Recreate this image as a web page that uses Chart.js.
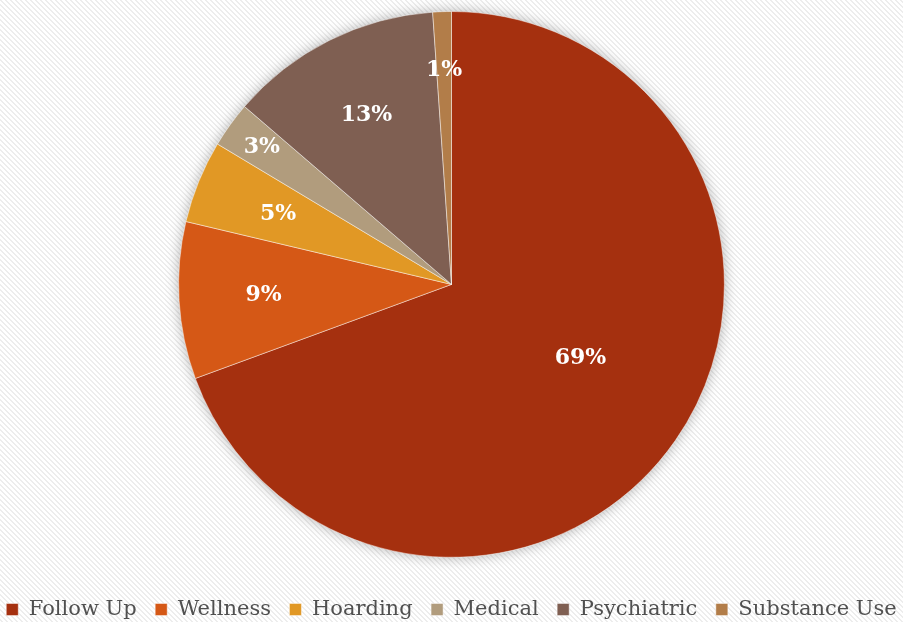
<!DOCTYPE html>
<html>
<head>
<meta charset="utf-8">
<script src="https://cdn.jsdelivr.net/npm/chart.js@4"></script>
<style>
  html, body {
    margin: 0;
    padding: 0;
    overflow: hidden;
  }
  body {
    width: 903px;
    height: 622px;
    background: #f8f8f8;
    position: relative;
  }
  #wrap {
    position: absolute;
    left: -20px;
    top: 0;
    width: 943px;
    height: 630px;
  }
</style>
</head>
<body>
<div id="wrap"><canvas id="graficoPizza"></canvas></div>
<script>
const categorias = ['Follow Up', 'Wellness', 'Hoarding', 'Medical', 'Psychiatric', 'Substance Use'];
const valores = [69.4, 9.3, 4.9, 2.7, 12.6, 1.1];
const cores = ['#A5300F', '#D55816', '#E19825', '#B19C7D', '#7F5F52', '#B27D49'];

// how far out (fraction of radius) each percentage label sits, and a small angle nudge (deg)
const posRotulo = [0.545, 0.69, 0.686, 0.857, 0.695, 0.785];
const giroRotulo = [-5, 0, 0, 0, 0, 0];

const total = valores.reduce((a, b) => a + b, 0);

// fundo com textura diagonal bem clara
(function () {
    const t = document.createElement('canvas');
    t.width = 5; t.height = 5;
    const c = t.getContext('2d');
    c.fillStyle = '#ffffff';
    c.fillRect(0, 0, 5, 5);
    c.fillStyle = '#ededed';
    for (let x = 0; x < 5; x++) {
        for (let y = 0; y < 5; y++) {
            if ((x - y + 10) % 5 < 2) c.fillRect(x, y, 1, 1);
        }
    }
    document.body.style.backgroundImage = `url(${t.toDataURL()})`;
})();

const sombraPizza = {
    id: 'sombraPizza',
    beforeDatasetsDraw(chart) {
        const arc = chart.getDatasetMeta(0).data[0];
        if (!arc) return;
        const ctx = chart.ctx;
        ctx.save();
        ctx.shadowColor = 'rgba(0,0,0,0.35)';
        ctx.shadowBlur = 14;
        ctx.fillStyle = '#ffffff';
        ctx.beginPath();
        ctx.arc(arc.x, arc.y, arc.outerRadius - 1, 0, Math.PI * 2);
        ctx.fill();
        ctx.restore();
    }
};

const rotulos = {
    id: 'rotulos',
    afterDatasetsDraw(chart) {
        const ctx = chart.ctx;
        const meta = chart.getDatasetMeta(0);
        ctx.save();
        ctx.fillStyle = '#ffffff';
        ctx.font = 'bold 22px "DejaVu Serif"';
        ctx.textAlign = 'center';
        ctx.textBaseline = 'middle';
        meta.data.forEach((arc, i) => {
            const { x, y, startAngle, endAngle, outerRadius } = arc.getProps(['x', 'y', 'startAngle', 'endAngle', 'outerRadius'], true);
            const meio = (startAngle + endAngle) / 2 + giroRotulo[i] * Math.PI / 180;
            const r = outerRadius * posRotulo[i];
            const txt = Math.round(valores[i] / total * 100) + '%';
            ctx.fillText(txt, x + Math.cos(meio) * r, y + Math.sin(meio) * r);
        });
        ctx.restore();
    }
};

const ctx = document.getElementById('graficoPizza').getContext('2d');
new Chart(ctx, {
    type: 'pie',
    data: {
        labels: categorias,
        datasets: [{
            data: valores,
            backgroundColor: cores,
            borderColor: 'rgba(255,255,255,0.45)',
            borderWidth: 1
        }]
    },
    options: {
        responsive: true,
        maintainAspectRatio: false,
        animation: false,
        layout: {
            padding: { top: 11, bottom: 0 }
        },
        plugins: {
            tooltip: { enabled: false },
            legend: {
                position: 'bottom',
                title: {
                    display: true,
                    text: '',
                    font: { size: 1 },
                    padding: { top: 21.5, bottom: 0 }
                },
                labels: {
                    color: '#505050',
                    font: { family: '"DejaVu Serif"', size: 21 },
                    boxWidth: 12,
                    boxHeight: 12,
                    padding: 18.5
                }
            }
        }
    },
    plugins: [sombraPizza, rotulos]
});
</script>
</body>
</html>
